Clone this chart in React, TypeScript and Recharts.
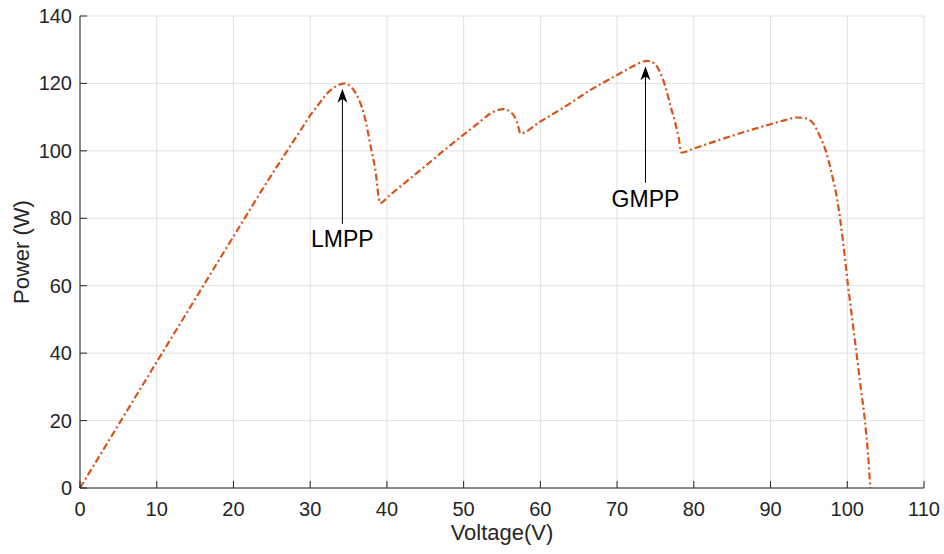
import React from "react";
import {
  LineChart,
  Line,
  XAxis,
  YAxis,
  CartesianGrid,
  ReferenceLine,
  ReferenceDot,
} from "recharts";

const voltage = [
  0, 5, 10, 15, 20, 25, 27, 29, 30, 31, 32, 33, 34, 34.5, 35, 36, 37, 38, 38.5, 39.1,
  40.4, 42, 44.8, 47, 50, 52, 53.5, 55.2, 56.5, 57, 57.4, 60, 63, 66.5, 70, 72, 73.4,
  74, 75, 75.6, 76.3, 77, 77.5, 78, 78.4, 80, 83.4, 87, 90, 92, 93.4, 94.5, 95.5,
  96.5, 97.2, 98, 98.7, 99.4, 100.1, 100.6, 101.2, 101.8, 102.3, 102.7, 103,
];
const power = [
  0, 18.7, 37.4, 56, 74.6, 93, 100, 107, 110.5, 113.5, 116.5, 118.6, 119.8, 120, 119.6,
  116.8, 111, 100, 94.3, 84.5, 86.9, 89.9, 95.1, 99.3, 104.8, 108.4, 111.1, 112.4, 110.6,
  108.3, 105.2, 108.7, 112.8, 118, 122.5, 125, 126.5, 126.7, 125.6, 123.3, 119, 113, 109,
  104.2, 99.5, 100.7, 103.3, 105.9, 107.9, 109.2, 109.9, 109.7, 108.3, 104, 100, 93, 85.4,
  74, 60, 51, 40, 29, 20, 10, 0,
];

const xTicks = [0, 10, 20, 30, 40, 50, 60, 70, 80, 90, 100, 110];
const yTicks = [0, 20, 40, 60, 80, 100, 120, 140];

// annotation: label, voltage, text power, arrow start, arrow tip
const notes = [
  { label: "LMPP", v: 34.2, textP: 73.8, fromP: 78.3, toP: 118.4 },
  { label: "GMPP", v: 73.7, textP: 85.6, fromP: 90.5, toP: 125.1 },
];

const data = voltage.map((v, i) => ({ v, p: power[i] }));

const INK = "#262626";
const FONT = "'Liberation Sans', Arial, Helvetica, sans-serif";

const BottomTick = ({ x, y, payload }: any) => (
  <g>
    <line x1={x} x2={x} y1={y} y2={y - 7} stroke={INK} />
    <text x={x} y={y + 21} textAnchor="middle" dominantBaseline="central" fill={INK} fontSize={20} fontFamily={FONT}>
      {payload.value}
    </text>
  </g>
);

const LeftTick = ({ x, y, payload }: any) => (
  <g>
    <line x1={x} x2={x + 7} y1={y} y2={y} stroke={INK} />
    <text x={x - 8} y={y} textAnchor="end" dominantBaseline="central" fill={INK} fontSize={20} fontFamily={FONT}>
      {payload.value}
    </text>
  </g>
);

const TopTick = ({ x, y }: any) => <line x1={x} x2={x} y1={y} y2={y + 7} stroke={INK} />;
const RightTick = ({ x, y }: any) => <line x1={x} x2={x - 7} y1={y} y2={y} stroke={INK} />;

const XLabel = ({ viewBox }: any) => (
  <text x={viewBox.x + viewBox.width / 2} y={viewBox.y + 52} textAnchor="middle" fill={INK} fontSize={22} fontFamily={FONT}>
    Voltage(V)
  </text>
);

const YLabel = ({ viewBox }: any) => {
  const cy = viewBox.y + viewBox.height / 2;
  return (
    <text x={29} y={cy} transform={`rotate(-90 29 ${cy})`} textAnchor="middle" fill={INK} fontSize={22} fontFamily={FONT}>
      Power (W)
    </text>
  );
};

const Arrow = ({ x1, y1, x2, y2 }: any) => {
  const top = Math.min(y1, y2);
  const bottom = Math.max(y1, y2);
  return (
    <g>
      <line x1={x1} x2={x2} y1={bottom} y2={top + 4} stroke="#000" strokeWidth={1} />
      <path d={`M ${x1} ${top} L ${x1 - 5} ${top + 14} L ${x1} ${top + 10} L ${x1 + 5} ${top + 14} Z`} fill="#000" />
    </g>
  );
};

const NoteText = (label: string) => ({ cx, cy }: any) => (
  <text x={cx} y={cy} textAnchor="middle" dominantBaseline="central" fill="#000" fontSize={23} fontFamily={FONT}>
    {label}
  </text>
);

export default function App() {
  return (
    <div style={{ position: "fixed", left: 0, top: 0, width: 944, height: 554, background: "#fff" }}>
      <LineChart width={944} height={554} data={data} margin={{ top: 16, right: 20, left: 0, bottom: 0 }}>
        <CartesianGrid stroke="#e0e0e0" strokeWidth={1} horizontalValues={yTicks} verticalValues={xTicks} />
        <XAxis
          dataKey="v"
          type="number"
          domain={[0, 110]}
          ticks={xTicks}
          height={66}
          stroke={INK}
          tickSize={0}
          tickMargin={0}
          tick={<BottomTick />}
          label={<XLabel />}
        />
        <XAxis
          xAxisId="top"
          orientation="top"
          dataKey="v"
          type="number"
          domain={[0, 110]}
          ticks={xTicks}
          height={0}
          stroke={INK}
          tickSize={0}
          tickMargin={0}
          tick={<TopTick />}
        />
        <YAxis
          type="number"
          domain={[0, 140]}
          ticks={yTicks}
          width={80}
          stroke={INK}
          tickSize={0}
          tickMargin={0}
          tick={<LeftTick />}
          label={<YLabel />}
        />
        <YAxis
          yAxisId="right"
          orientation="right"
          type="number"
          domain={[0, 140]}
          ticks={yTicks}
          width={0}
          stroke={INK}
          tickSize={0}
          tickMargin={0}
          tick={<RightTick />}
        />
        <Line
          type="monotone"
          dataKey="p"
          stroke="#D95319"
          strokeWidth={2.2}
          strokeDasharray="7 3 2 3"
          dot={false}
          activeDot={false}
          isAnimationActive={false}
        />
        {notes.map((n) => (
          <ReferenceLine
            key={n.label + "-arrow"}
            segment={[
              { x: n.v, y: n.fromP },
              { x: n.v, y: n.toP },
            ]}
            shape={Arrow}
          />
        ))}
        {notes.map((n) => (
          <ReferenceDot key={n.label} x={n.v} y={n.textP} r={0} shape={NoteText(n.label)} />
        ))}
      </LineChart>
    </div>
  );
}
